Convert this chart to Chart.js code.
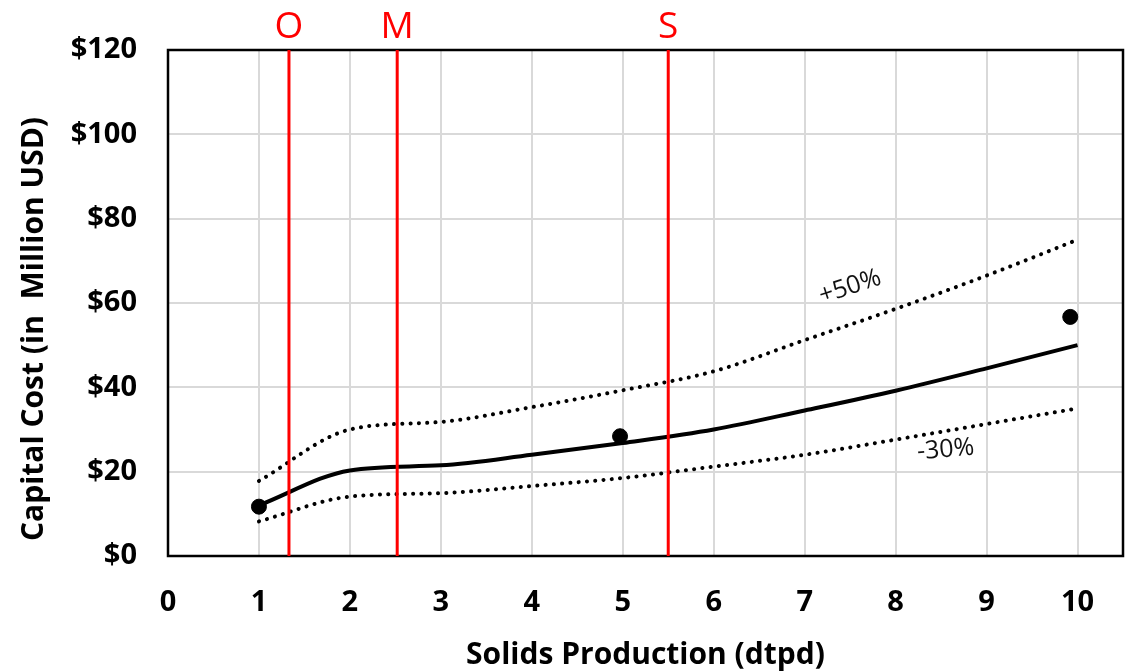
<!DOCTYPE html>
<html>
<head>
<meta charset="utf-8">
<script src="https://cdn.jsdelivr.net/npm/chart.js@4.4.1/dist/chart.umd.min.js"></script>
<style>
    html, body { margin: 0; padding: 0; background: #fff; }
    #wrap { width: 1135px; height: 671px; }
</style>
</head>
<body>
<div id="wrap"><canvas id="costChart" width="1135" height="671"></canvas></div>
<script>
// curve readings (million USD) at each production rate
const xValues = [1, 2, 3, 4, 5, 6, 7, 8, 9, 10];
const midCost = [12, 20.3, 21.5, 24, 26.8, 30, 34.5, 39.2, 44.5, 50];
const upperCost = [17.8, 30, 31.8, 35.3, 39.3, 43.8, 51.2, 58.6, 66.5, 75];
const lowerCost = [8.2, 14.1, 14.9, 16.6, 18.5, 21.2, 24, 27.6, 31.3, 35];

// actual plants
const plantX = [1, 4.97, 9.92];
const plantCost = [11.7, 28.4, 56.7];

// O / M / S reference lines
const markerNames = ["O", "M", "S"];
const markerX = [1.33, 2.52, 5.5];

const xTicks = [0, 1, 2, 3, 4, 5, 6, 7, 8, 9, 10];
const yTicks = [0, 20, 40, 60, 80, 100, 120];

const toPoints = (xs, ys) => xs.map((x, i) => ({ x: x, y: ys[i] }));

const datasets = [];

markerX.forEach((mx, i) => {
    datasets.push({
        label: markerNames[i],
        data: [{ x: mx, y: 0 }, { x: mx, y: 120 }],
        borderColor: "#ff0000",
        borderWidth: 3,
        pointRadius: 0,
        order: 0,
    });
});

datasets.push({
    label: "+50%",
    data: toPoints(xValues, upperCost),
    borderColor: "#000",
    borderWidth: 4,
    borderDash: [0.1, 8.2],
    borderCapStyle: "round",
    pointRadius: 0,
    cubicInterpolationMode: "monotone",
    order: 2,
});
datasets.push({
    label: "-30%",
    data: toPoints(xValues, lowerCost),
    borderColor: "#000",
    borderWidth: 4,
    borderDash: [0.1, 8.2],
    borderCapStyle: "round",
    pointRadius: 0,
    cubicInterpolationMode: "monotone",
    order: 2,
});
datasets.push({
    label: "Estimate",
    data: toPoints(xValues, midCost),
    borderColor: "#000",
    borderWidth: 4,
    pointRadius: 0,
    cubicInterpolationMode: "monotone",
    order: 1,
});
datasets.push({
    label: "Plants",
    data: toPoints(plantX, plantCost),
    showLine: false,
    pointRadius: 7.5,
    pointBackgroundColor: "#000",
    pointBorderColor: "#000",
    order: 1,
});

const framePlugin = {
    id: "frame",
    beforeDatasetsDraw(chart) {
        const { ctx, chartArea: a } = chart;
        ctx.save();
        ctx.strokeStyle = "#000";
        ctx.lineWidth = 2.5;
        ctx.strokeRect(a.left, a.top, a.right - a.left, a.bottom - a.top);
        ctx.restore();
    },
    afterDatasetsDraw(chart) {
        const { ctx, chartArea: a } = chart;
        const xs = chart.scales.x;
        const ys = chart.scales.y;
        ctx.save();
        // line names above the plot
        ctx.fillStyle = "#ff0000";
        ctx.font = "37px 'Open Sans'";
        ctx.textAlign = "center";
        ctx.textBaseline = "middle";
        markerX.forEach((mx, i) => {
            ctx.fillText(markerNames[i], xs.getPixelForValue(mx), a.top - 23);
        });

        // band labels
        ctx.fillStyle = "#111";
        ctx.font = "25px 'Open Sans'";
        ctx.translate(xs.getPixelForValue(7.5), ys.getPixelForValue(63.8));
        ctx.rotate(-18 * Math.PI / 180);
        ctx.fillText("+50%", 0, 0);
        ctx.restore();

        ctx.save();
        ctx.fillStyle = "#111";
        ctx.font = "25px 'Open Sans'";
        ctx.textAlign = "center";
        ctx.textBaseline = "middle";
        ctx.translate(xs.getPixelForValue(8.55), ys.getPixelForValue(25.2));
        ctx.rotate(-5 * Math.PI / 180);
        ctx.fillText("-30%", 0, 0);
        ctx.restore();

        // y axis title, sits a bit below the plot centre like the original
        ctx.save();
        ctx.fillStyle = "#000";
        ctx.font = "bold 30px 'Open Sans'";
        ctx.textAlign = "center";
        ctx.textBaseline = "middle";
        ctx.translate(34, 329);
        ctx.rotate(-Math.PI / 2);
        ctx.fillText("Capital Cost (in  Million USD)", 0, 0);
        ctx.restore();
    },
};

new Chart(document.getElementById("costChart"), {
    type: "line",
    data: { datasets: datasets },
    options: {
        responsive: false,
        animation: false,
        layout: { padding: { top: 50, right: 12, left: 0, bottom: 0 } },
        plugins: {
            legend: { display: false },
            tooltip: { enabled: false },
        },
        scales: {
            x: {
                type: "linear",
                min: 0,
                max: 10.5,
                afterBuildTicks: (scale) => {
                    scale.ticks = xTicks.map((v) => ({ value: v }));
                },
                afterFit: (scale) => { scale.height = 115; },
                grid: { color: "#d9d9d9", lineWidth: 2, drawTicks: false },
                border: { display: false },
                ticks: {
                    color: "#000",
                    padding: 29,
                    font: { family: "'Open Sans'", size: 29, weight: "bold" },
                },
                title: {
                    display: true,
                    text: "Solids Production (dtpd)",
                    color: "#000",
                    padding: { top: 0, bottom: -2 },
                    font: { family: "'Open Sans'", size: 30, weight: "bold" },
                },
            },
            y: {
                min: 0,
                max: 120,
                afterBuildTicks: (scale) => {
                    scale.ticks = yTicks.map((v) => ({ value: v }));
                },
                afterFit: (scale) => { scale.width = 168; },
                grid: { color: "#d9d9d9", lineWidth: 2, drawTicks: false },
                border: { display: false },
                ticks: {
                    color: "#000",
                    padding: 31,
                    callback: (v) => "$" + v,
                    font: { family: "'Open Sans'", size: 29, weight: "bold" },
                },
                title: { display: false },
            },
        },
    },
    plugins: [framePlugin],
});
</script>
</body>
</html>
